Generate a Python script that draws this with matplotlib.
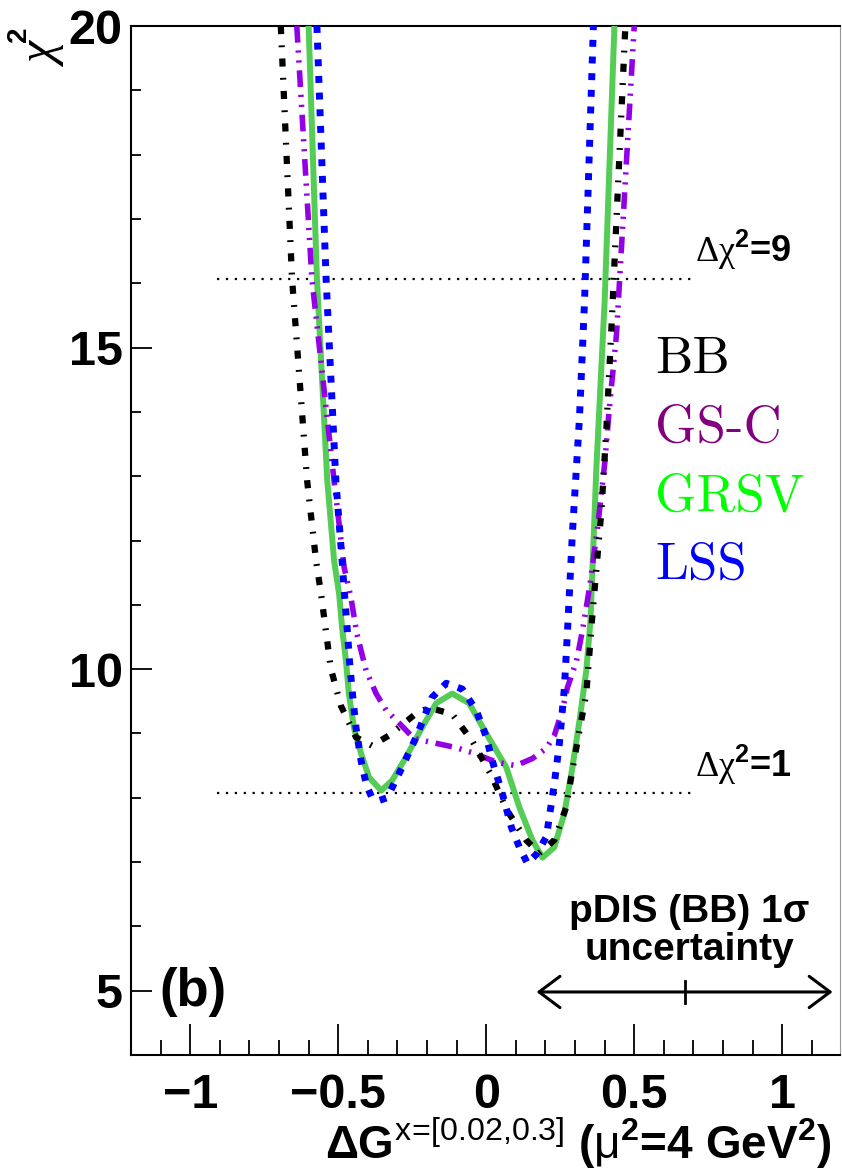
import matplotlib
matplotlib.use("Agg")
import matplotlib.pyplot as plt
from matplotlib.ticker import MultipleLocator, FuncFormatter

plt.rcParams['mathtext.fontset'] = 'custom'
plt.rcParams['mathtext.rm'] = 'Liberation Sans:bold'
plt.rcParams['mathtext.bf'] = 'Liberation Sans:bold'
plt.rcParams['mathtext.it'] = 'Liberation Sans:bold:italic'
plt.rcParams['mathtext.sf'] = 'Liberation Sans'
plt.rcParams['mathtext.cal'] = 'Liberation Serif'
plt.rcParams['font.family'] = 'Liberation Sans'

# chi2 scans vs Delta G
x_bb = [-0.694, -0.656, -0.605, -0.575, -0.558, -0.541, -0.525, -0.491, -0.440, -0.386,
        -0.328, -0.237, -0.193, -0.115, -0.047, 0.017, 0.071, 0.135, 0.179, 0.230,
        0.270, 0.291, 0.315, 0.338, 0.357, 0.389, 0.406, 0.425, 0.470]
y_bb = [20.0, 16.07, 12.93, 11.69, 11.17, 10.57, 10.01, 9.43, 8.94, 8.81,
        8.97, 9.31, 9.40, 9.30, 8.88, 8.35, 7.80, 7.34, 7.14, 7.34,
        7.85, 8.43, 9.05, 9.62, 10.75, 12.46, 13.75, 15.50, 20.0]

x_gsc = [-0.640, -0.589, -0.514, -0.480, -0.457, -0.437, -0.406, -0.372, -0.338, -0.294,
         -0.244, -0.183, -0.102, -0.047, 0.037, 0.100, 0.156, 0.203, 0.230, 0.257,
         0.274, 0.305, 0.325, 0.349, 0.376, 0.400, 0.416, 0.440, 0.500]
y_gsc = [20.0, 16.07, 12.93, 11.58, 11.11, 10.55, 9.98, 9.62, 9.36, 9.16,
         8.92, 8.86, 8.78, 8.70, 8.55, 8.50, 8.61, 8.77, 8.97, 9.36,
         9.71, 10.13, 10.60, 11.27, 12.20, 13.19, 14.06, 15.21, 20.0]

x_grsv = [-0.600, -0.572, -0.537, -0.514, -0.497, -0.487, -0.474, -0.464, -0.447, -0.423,
          -0.396, -0.355, -0.318, -0.271, -0.217, -0.169, -0.115, -0.058, 0.000, 0.068,
          0.112, 0.156, 0.190, 0.230, 0.264, 0.291, 0.315, 0.338, 0.352, 0.372,
          0.400, 0.433]
y_grsv = [20.0, 16.07, 12.93, 11.69, 11.17, 10.65, 10.13, 9.62, 9.09, 8.69,
          8.32, 8.11, 8.27, 8.63, 9.09, 9.47, 9.62, 9.47, 9.00, 8.47,
          7.85, 7.34, 7.07, 7.23, 7.76, 8.47, 9.20, 9.98, 10.75, 13.13,
          15.72, 20.0]

x_lss = [-0.572, -0.541, -0.508, -0.487, -0.479, -0.470, -0.462, -0.452, -0.440, -0.423,
         -0.405, -0.386, -0.360, -0.335, -0.294, -0.237, -0.183, -0.135, -0.081, -0.034,
         0.000, 0.020, 0.054, 0.085, 0.112, 0.139, 0.169, 0.203, 0.230, 0.247,
         0.264, 0.274, 0.291, 0.315, 0.332, 0.362]
y_lss = [20.0, 16.07, 12.93, 11.69, 11.17, 10.65, 10.13, 9.62, 9.09, 8.58,
         8.20, 8.00, 7.96, 8.00, 8.38, 8.94, 9.56, 9.78, 9.69, 9.36,
         8.95, 8.58, 8.07, 7.54, 7.23, 6.98, 7.12, 7.39, 8.22, 8.84,
         9.71, 10.55, 12.11, 13.91, 15.72, 20.0]

chi2_min = 7.07
dchi2_levels = [1, 9]
level_x = [-0.91, 0.70]

pdis_center = 0.67
pdis_sigma = 0.5
pdis_y = 4.98

labels = ['BB', 'GS-C', 'GRSV', 'LSS']
label_colors = ['black', '#800080', '#00ff00', '#0000ff']

fig = plt.figure(figsize=(8.42, 11.74), dpi=100)
ax = fig.add_axes([131/842, 1 - 1055/1174, 709/842, 1029/1174])

ax.plot(x_grsv, y_grsv, color='#55cc55', lw=4.3, solid_joinstyle='round', zorder=3)
ax.plot(x_gsc, y_gsc, color='#9400e6', lw=4.0, ls=(0, (3.0, 1.4, 0.4, 1.4, 0.4, 1.4)), zorder=4)
ax.plot(x_bb, y_bb, color='black', lw=4.5, ls=(0, (1.3, 1.8, 0.3, 1.8)), zorder=5)
ax.plot(x_lss, y_lss, color='#0000ff', lw=5.0, ls=(0, (1.0, 1.4)), zorder=6)

for d in dchi2_levels:
    ax.plot(level_x, [chi2_min + d, chi2_min + d], color='black', lw=1.6,
            ls=(0, (1, 3)), zorder=2)
    ax.text(level_x[1] + 0.005, chi2_min + d + 0.1, r'$\mathcal{\Delta\chi}^{2}$=%d' % d,
            fontsize=26, fontweight='bold', ha='left', va='bottom')

# legend as coloured words
for i, (lab, c) in enumerate(zip(labels, label_colors)):
    ax.text(0.57, 14.6 - i * 1.065, lab, color=c, fontsize=38, family='cmr10',
            ha='left', va='baseline')

# pDIS uncertainty arrow
ax.annotate('', xy=(pdis_center + pdis_sigma, pdis_y), xytext=(pdis_center - pdis_sigma, pdis_y),
            arrowprops=dict(arrowstyle='<->,head_length=1.0,head_width=0.75', lw=2.2,
                            color='black', mutation_scale=15, shrinkA=0, shrinkB=0))
ax.plot([pdis_center, pdis_center], [pdis_y - 0.17, pdis_y + 0.17], color='black', lw=2)
ax.text(pdis_center + 0.015, 6.07, 'pDIS (BB) 1\u03c3', fontsize=28, fontweight='bold',
        ha='center', va='baseline')
ax.text(pdis_center + 0.015, 5.47, 'uncertainty', fontsize=28, fontweight='bold',
        ha='center', va='baseline')

ax.text(-1.105, 4.98, '(b)', fontsize=38, fontweight='bold', ha='left', va='center')

ax.set_xlim(-1.2, 1.195)
ax.set_ylim(4, 20)
ax.xaxis.set_major_locator(MultipleLocator(0.5))
ax.xaxis.set_minor_locator(MultipleLocator(0.1))
ax.yaxis.set_major_locator(MultipleLocator(5))
ax.yaxis.set_minor_locator(MultipleLocator(1))
ax.xaxis.set_major_formatter(FuncFormatter(lambda v, p: ('%g' % v).replace('-', '\u2212')))
ax.yaxis.set_major_formatter(FuncFormatter(lambda v, p: '%g' % v))
ax.tick_params(axis='x', which='major', direction='in', length=22, width=1.3,
               labelsize=35, pad=13, top=False)
ax.tick_params(axis='x', which='minor', direction='in', length=11, width=1.3, top=False)
ax.tick_params(axis='y', which='major', direction='in', length=15, width=1.3,
               labelsize=35, pad=6, right=False)
ax.tick_params(axis='y', which='minor', direction='in', length=7, width=1.3, right=False)
for lbl in ax.get_xticklabels() + ax.get_yticklabels():
    lbl.set_fontweight('bold')
for s in ['left', 'bottom', 'top']:
    ax.spines[s].set_linewidth(1.5)
ax.spines['right'].set_linewidth(0.8)
ax.spines['right'].set_color('#999999')

# y label: chi^2 at the top left, rotated
fig.text(45/842, 1 - 55/1174, '\u03c7', rotation=90, family='Liberation Serif', style='italic',
         fontsize=36, ha='center', va='center')
fig.text(19/842, 1 - 34/1174, '2', rotation=90, fontsize=20, fontweight='bold',
         ha='center', va='center')

fig.text(0.987, 0.013,
         r'$\Delta$G$^{\mathsf{x\!=\![0.02{,}0.3]}}$ ($\mathsf{\mu}^{2}$=4 GeV$^{2}$)',
         fontsize=33, fontweight='bold', ha='right', va='baseline')

fig.savefig('out.png', dpi=100)
